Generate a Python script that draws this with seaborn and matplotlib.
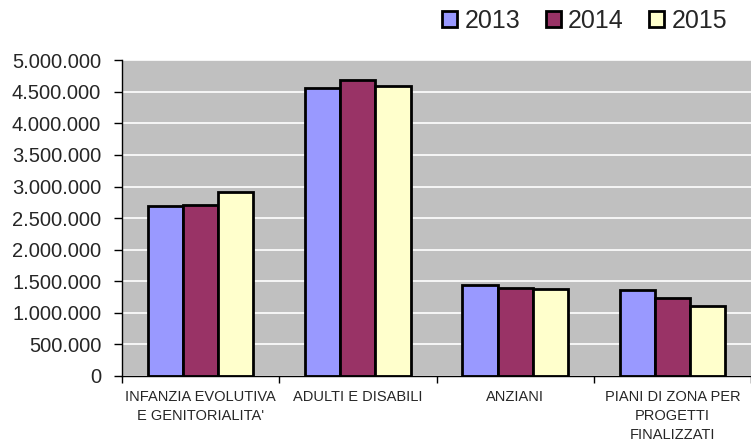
import numpy as np
import pandas as pd
import matplotlib
matplotlib.use("Agg")
import matplotlib.pyplot as plt
import seaborn as sns
from matplotlib.patches import Patch
from matplotlib.ticker import FuncFormatter

categories = ["INFANZIA EVOLUTIVA\nE GENITORIALITA'", "ADULTI E DISABILI", "ANZIANI",
              "PIANI DI ZONA PER\nPROGETTI\nFINALIZZATI"]
years = ["2013", "2014", "2015"]
values_2013 = [2693000, 4565000, 1448000, 1368000]
values_2014 = [2709000, 4692000, 1389000, 1235000]
values_2015 = [2906000, 4592000, 1379000, 1113000]
colors = ["#9999FF", "#993366", "#FFFFCC"]

df = pd.DataFrame({
    "cat": categories * 3,
    "year": [y for y in years for _ in categories],
    "value": values_2013 + values_2014 + values_2015,
})

sns.set_style("white")
plt.rcParams["font.family"] = ["Liberation Sans", "DejaVu Sans"]

fig = plt.figure(figsize=(7.51, 4.46), dpi=100)
ax = fig.add_axes([0.1625, 0.157, 0.8375, 0.708])
ax.set_facecolor("#C0C0C0")

sns.barplot(data=df, x="cat", y="value", hue="year", palette=colors, width=0.67,
            edgecolor="black", linewidth=2, ax=ax, legend=False, saturation=1)

ax.set_ylim(0, 5000000)
ax.set_xlim(-0.5, 3.5)
ax.set_yticks(np.arange(0, 5000001, 500000))
ax.yaxis.set_major_formatter(FuncFormatter(lambda v, p: f"{int(v):,}".replace(",", ".")))
ax.grid(axis="y", color="white", linewidth=1.2)
ax.set_axisbelow(True)
ax.set_xlabel("")
ax.set_ylabel("")

ax.tick_params(axis="y", labelsize=14.5, length=6, width=1, color="black", direction="out", left=True, pad=9)
ax.tick_params(axis="x", labelsize=10.5, length=0, pad=10)
for lab in ax.get_xticklabels():
    lab.set_linespacing(1.45)
ax.set_xticks([-0.5, 0.5, 1.5, 2.5, 3.5], minor=True)
ax.tick_params(axis="x", which="minor", length=5, width=1, color="black", direction="out", bottom=True)

for side in ["top", "right"]:
    ax.spines[side].set_visible(False)
for side in ["left", "bottom"]:
    ax.spines[side].set_color("black")
    ax.spines[side].set_linewidth(1)

handles = [Patch(facecolor=c, edgecolor="black", linewidth=2, label=y) for c, y in zip(colors, years)]
fig.legend(handles=handles, loc="center right", bbox_to_anchor=(0.968, 0.953), ncol=3, frameon=False,
           borderaxespad=0, borderpad=0, fontsize=18, handlelength=0.6, handleheight=0.6,
           handletextpad=0.3, columnspacing=1.0)

fig.savefig("out.png", dpi=100)
